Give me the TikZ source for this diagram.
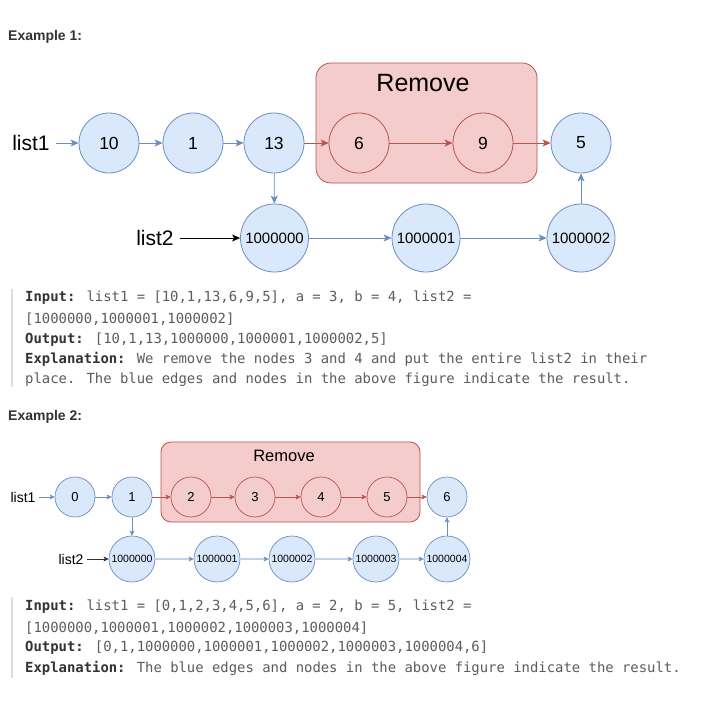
\documentclass[tikz,border=0pt]{standalone}
\usepackage{fontspec}
\setmainfont{Liberation Sans}
\newfontfamily\codefont{DejaVu Sans Mono}
\usetikzlibrary{arrows.meta}
\definecolor{bfill}{HTML}{DAE8FC}
\definecolor{bstroke}{HTML}{6C8EBF}
\definecolor{rfill}{HTML}{F4CCCC}
\definecolor{rstroke}{HTML}{B85450}
\definecolor{headc}{HTML}{333333}
\definecolor{codec}{HTML}{5C5C5C}
\definecolor{barc}{HTML}{DDDDDD}
\definecolor{lightedge}{HTML}{C3D2EA}
\newcommand{\fs}[1]{\fontsize{#1}{#1}\selectfont}
\tikzset{
  bnodeA/.style={circle, draw=bstroke, fill=bfill, line width=0.8pt, inner sep=0pt, minimum size=60pt, font=\fs{17.5}},
  bnodeL/.style={circle, draw=bstroke, fill=bfill, line width=0.8pt, inner sep=0pt, minimum size=68pt, font=\fs{15}},
  rnodeA/.style={circle, draw=rstroke, fill=rfill, line width=0.8pt, inner sep=0pt, minimum size=60pt, font=\fs{17.5}},
  bnodeB/.style={circle, draw=bstroke, fill=bfill, line width=0.7pt, inner sep=0pt, minimum size=40pt, font=\fs{13}},
  bnodeBL/.style={circle, draw=bstroke, fill=bfill, line width=0.7pt, inner sep=0pt, minimum size=46pt, font=\fs{10.5}},
  rnodeB/.style={circle, draw=rstroke, fill=rfill, line width=0.7pt, inner sep=0pt, minimum size=40pt, font=\fs{13}},
  removebox/.style={rectangle, draw=rstroke, fill=rfill, line width=0.8pt, inner sep=0pt},
  barrow/.style={draw=bstroke, line width=0.8pt, -{Stealth[length=8pt,width=7pt,inset=2pt]}},
  rarrow/.style={draw=rstroke, line width=0.8pt, -{Stealth[length=8pt,width=7pt,inset=2pt]}},
  karrow/.style={draw=black, line width=0.8pt, -{Stealth[length=8pt,width=7pt,inset=2pt]}},
  barrowS/.style={draw=bstroke, line width=0.7pt, -{Stealth[length=5pt,width=5pt,inset=1.2pt]}},
  larrowS/.style={draw=lightedge, line width=1.3pt, -{Stealth[length=5pt,width=5pt,inset=1.2pt,color=bstroke]}},
  rarrowS/.style={draw=rstroke, line width=0.7pt, -{Stealth[length=5pt,width=5pt,inset=1.2pt]}},
  karrowS/.style={draw=headc, line width=0.9pt, -{Stealth[length=5pt,width=5pt,inset=1.2pt]}},
  heading/.style={anchor=west, inner sep=0pt, font=\fs{14}\bfseries, text=headc},
  codeline/.style={anchor=west, inner sep=0pt, font=\codefont\fs{13.9}, text=codec},
}
\newcommand{\lab}[1]{{\bfseries\color{headc}#1}}
\begin{document}
\begin{tikzpicture}[x=1pt, y=-1pt]
\useasboundingbox (0,0) rectangle (702,702);
\fill[white] (0,0) rectangle (702,702);

% ---------- Example 1 ----------
\node[heading] (h1) at (8,37) {Example 1:};
\node[removebox, rounded corners=15pt, minimum width=221pt, minimum height=120pt] (rm1) at (426.5,123) {};
\node[font=\fs{25}] (rm1t) at (423,83) {Remove};

\node[font=\fs{21}, inner sep=0pt] (l1) at (31,143) {list1};
\node[bnodeA] (a10) at (109,143) {10};
\node[bnodeA] (a1) at (193,143) {1};
\node[bnodeA] (a13) at (274,143) {13};
\node[rnodeA] (a6) at (359,143) {6};
\node[rnodeA] (a9) at (483,143) {9};
\node[bnodeA] (a5) at (581,143) {5};

\node[font=\fs{21}, inner sep=0pt] (l2) at (155,238) {list2};
\node[bnodeL] (b0) at (274.5,238) {1000000};
\node[bnodeL] (b1) at (426,238) {1000001};
\node[bnodeL] (b2) at (581,238) {1000002};

\draw[barrow] (l1.east) ++(6,0) coordinate (l1s) -- (a10);
\draw[barrow] (a10) -- (a1);
\draw[barrow] (a1) -- (a13);
\draw[rarrow] (a13) -- (a6);
\draw[rarrow] (a6) -- (a9);
\draw[rarrow] (a9) -- (a5);
\draw[barrow] (a13) -- (b0);
\draw[karrow] (l2.east) ++(6,0) coordinate (l2s) -- (b0);
\draw[barrow] (b0) -- (b1);
\draw[barrow] (b1) -- (b2);
\draw[barrow] (b2) -- (a5);

% code block 1
\draw[barc, line width=2pt] (12,289) coordinate (bar1a) -- (12,387) coordinate (bar1b);
\node[codeline] (c1a) at (25,298) {\lab{Input:} list1 = [10,1,13,6,9,5], a = 3, b = 4, list2 =};
\node[codeline] (c1b) at (25,319) {[1000000,1000001,1000002]};
\node[codeline] (c1c) at (25,340) {\lab{Output:} [10,1,13,1000000,1000001,1000002,5]};
\node[codeline] (c1d) at (25,359) {\lab{Explanation:} We remove the nodes 3 and 4 and put the entire list2 in their};
\node[codeline] (c1e) at (25,380) {place. The blue edges and nodes in the above figure indicate the result.};

% ---------- Example 2 ----------
\node[heading] (h2) at (8,417) {Example 2:};
\node[removebox, rounded corners=10pt, minimum width=259pt, minimum height=80pt] (rm2) at (290.5,482) {};
\node[font=\fs{16.5}] (rm2t) at (284,456) {Remove};

\node[font=\fs{14}, inner sep=0pt] (m1) at (23,497) {list1};
\node[bnodeB] (n0) at (75,497) {0};
\node[bnodeB] (n1) at (132,497) {1};
\node[rnodeB] (n2) at (191,497) {2};
\node[rnodeB] (n3) at (255,497) {3};
\node[rnodeB] (n4) at (321,497) {4};
\node[rnodeB] (n5) at (387,497) {5};
\node[bnodeB] (n6) at (447,497) {6};

\node[font=\fs{14}, inner sep=0pt] (m2) at (71,559) {list2};
\node[bnodeBL] (p0) at (132,559) {1000000};
\node[bnodeBL] (p1) at (217,559) {1000001};
\node[bnodeBL] (p2) at (292,559) {1000002};
\node[bnodeBL] (p3) at (376,559) {1000003};
\node[bnodeBL] (p4) at (447,559) {1000004};

\draw[barrowS] (m1.east) ++(3,0) coordinate (m1s) -- (n0);
\draw[barrowS] (n0) -- (n1);
\draw[rarrowS] (n1) -- (n2);
\draw[rarrowS] (n2) -- (n3);
\draw[rarrowS] (n3) -- (n4);
\draw[rarrowS] (n4) -- (n5);
\draw[rarrowS] (n5) -- (n6);
\draw[barrowS] (n1) -- (p0);
\draw[karrowS] (m2.east) ++(3,0) coordinate (m2s) -- (p0);
\draw[larrowS] (p0) -- (p1);
\draw[larrowS] (p1) -- (p2);
\draw[larrowS] (p2) -- (p3);
\draw[larrowS] (p3) -- (p4);
\draw[barrowS] (p4) -- (n6);

% code block 2
\draw[barc, line width=2pt] (12,597) coordinate (bar2a) -- (12,678) coordinate (bar2b);
\node[codeline] (c2a) at (25,607) {\lab{Input:} list1 = [0,1,2,3,4,5,6], a = 2, b = 5, list2 =};
\node[codeline] (c2b) at (25,628) {[1000000,1000001,1000002,1000003,1000004]};
\node[codeline] (c2c) at (25,648) {\lab{Output:} [0,1,1000000,1000001,1000002,1000003,1000004,6]};
\node[codeline] (c2d) at (25,668) {\lab{Explanation:} The blue edges and nodes in the above figure indicate the result.};
\end{tikzpicture}
\end{document}
